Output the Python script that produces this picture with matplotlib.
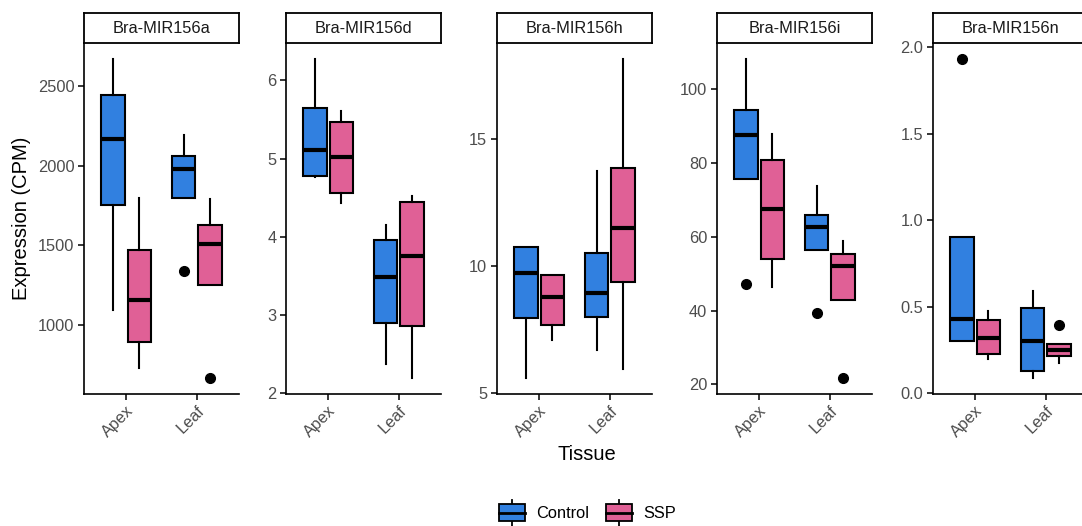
import matplotlib
matplotlib.use("Agg")
import matplotlib.pyplot as plt
from matplotlib.patches import Rectangle
from matplotlib.lines import Line2D
from matplotlib.legend_handler import HandlerBase
from matplotlib.ticker import MultipleLocator

plt.rcParams['font.family'] = ['Liberation Sans', 'DejaVu Sans']

# data: box stats, order per gene =
# Apex-Control, Apex-SSP, Leaf-Control, Leaf-SSP
genes = ["Bra-MIR156a", "Bra-MIR156d", "Bra-MIR156h", "Bra-MIR156i", "Bra-MIR156n"]
tissues = ["Apex", "Leaf"]
groups = ["Control", "SSP"]
colors = {"Control": "#3180E0", "SSP": "#E06096"}

whislo = [[1095, 728, 1797, 1249],
          [4.76, 4.43, 2.38, 2.20],
          [5.62, 7.10, 6.70, 5.96],
          [75.6, 46.3, 56.4, 42.9],
          [0.30, 0.20, 0.09, 0.174]]
q1 = [[1753, 894, 1797, 1249],
      [4.78, 4.56, 2.90, 2.86],
      [7.96, 7.70, 8.00, 9.40],
      [75.6, 54.1, 56.4, 42.9],
      [0.30, 0.227, 0.13, 0.217]]
med = [[2171, 1158, 1981, 1506],
       [5.11, 5.02, 3.49, 3.75],
       [9.75, 8.79, 8.96, 11.50],
       [87.6, 67.6, 62.7, 52.2],
       [0.43, 0.32, 0.30, 0.248]]
q3 = [[2445, 1470, 2059, 1627],
      [5.64, 5.47, 3.96, 4.45],
      [10.75, 9.64, 10.54, 13.87],
      [94.4, 80.8, 66.0, 55.4],
      [0.90, 0.42, 0.49, 0.285]]
whishi = [[2671, 1797, 2196, 1790],
          [6.27, 5.61, 4.15, 4.52],
          [10.75, 9.64, 13.74, 18.15],
          [108.2, 87.8, 73.7, 58.8],
          [0.90, 0.473, 0.59, 0.285]]
fliers = [[[], [], [1337], [667]],
          [[], [], [], []],
          [[], [], [], []],
          [[47.1], [], [39.4], [21.8]],
          [[1.93], [], [], [0.393]]]
tick_steps = [500, 1, 5, 20, 0.5]

W, H = 1082, 526
fig = plt.figure(figsize=(W / 100, H / 100), dpi=100)

lefts = [84, 286, 497, 717, 933]
pw = 155
top, bottom = 43.3, 393.5
strip_top = 13.3

for g, gene in enumerate(genes):
    ax = fig.add_axes([lefts[g] / W, 1 - bottom / H, pw / W, (bottom - top) / H])
    stats, pos, cols = [], [], []
    k = 0
    for t in range(2):
        for j, grp in enumerate(groups):
            stats.append(dict(whislo=whislo[g][k], q1=q1[g][k], med=med[g][k],
                              q3=q3[g][k], whishi=whishi[g][k], fliers=fliers[g][k]))
            pos.append(t + 1 + (-0.1875 if j == 0 else 0.1875))
            cols.append(colors[grp])
            k += 1
    bp = ax.bxp(stats, positions=pos, widths=0.34, patch_artist=True,
                showcaps=False, manage_ticks=False,
                boxprops=dict(edgecolor="black", linewidth=1.5),
                medianprops=dict(color="black", linewidth=3, solid_capstyle="butt"),
                whiskerprops=dict(color="black", linewidth=1.5),
                flierprops=dict(marker="o", markerfacecolor="black",
                                markeredgecolor="black", markersize=7))
    for patch, c in zip(bp["boxes"], cols):
        patch.set_facecolor(c)

    vals = whislo[g] + whishi[g] + [v for f in fliers[g] for v in f]
    lo, hi = min(vals), max(vals)
    pad = (hi - lo) * 0.05
    ax.set_ylim(lo - pad, hi + pad)
    ax.set_xlim(0.4, 2.6)
    ax.yaxis.set_major_locator(MultipleLocator(tick_steps[g]))
    ax.set_xticks([1, 2])
    ax.set_xticklabels(tissues, rotation=45, ha="right", va="top",
                       rotation_mode="anchor")
    for s in ["top", "right"]:
        ax.spines[s].set_visible(False)
    for s in ["left", "bottom"]:
        ax.spines[s].set_linewidth(1.2)
    ax.tick_params(axis="both", length=4, width=1.1, color="black",
                   labelsize=11.8, labelcolor="#4D4D4D", pad=3)

    # strip
    sax = fig.add_axes([lefts[g] / W, 1 - top / H, pw / W, (top - strip_top) / H])
    sax.set_xticks([])
    sax.set_yticks([])
    for s in sax.spines.values():
        s.set_linewidth(1.3)
    sax.text(0.5, 0.5, gene, ha="center", va="center", fontsize=11.8,
             color="#1A1A1A", transform=sax.transAxes)

fig.text(22 / W, 1 - 218 / H, "Expression (CPM)", rotation=90,
         ha="center", va="center", fontsize=14.5)
fig.text(587 / W, 1 - 455 / H, "Tissue", ha="center", va="center", fontsize=14.5)


class BoxKey(HandlerBase):
    def create_artists(self, legend, orig, xd, yd, width, height, fontsize, trans):
        c = orig.get_facecolor()
        bw, bh = 18.5, 12.2
        x0 = -xd + (width - bw) / 2
        y0 = -yd + (height - bh) / 2
        cx = x0 + bw / 2
        arts = [
            Line2D([cx, cx], [y0 + bh, y0 + bh + 3], color="black", lw=1.3, transform=trans),
            Line2D([cx, cx], [y0 - 3, y0], color="black", lw=1.3, transform=trans),
            Rectangle((x0, y0), bw, bh, facecolor=c, edgecolor="black", lw=1.3, transform=trans),
            Line2D([x0, x0 + bw], [y0 + bh / 2] * 2, color="black", lw=2, transform=trans),
        ]
        return arts


handles = [Rectangle((0, 0), 1, 1, facecolor=colors[g]) for g in groups]
fig.legend(handles, groups, handler_map={Rectangle: BoxKey()},
           loc="center", bbox_to_anchor=(587 / W, 1 - 513 / H), ncol=2,
           frameon=False, fontsize=11.8, handlelength=1.7, handleheight=1.2,
           handletextpad=0.6, columnspacing=1.0)

fig.savefig("out.png", dpi=100)
